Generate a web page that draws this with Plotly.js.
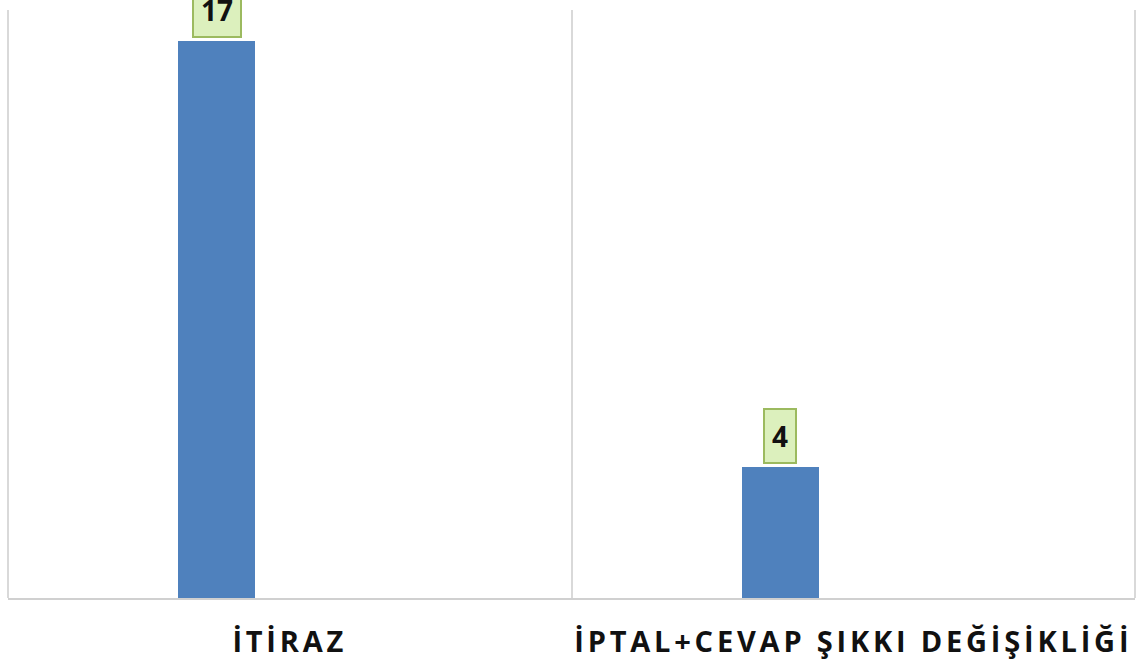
<!DOCTYPE html>
<html>
<head>
<meta charset="utf-8">
<script src="https://cdn.plot.ly/plotly-3.0.1.min.js"></script>
<style>
html,body{margin:0;padding:0;background:#fff;}
#chart{width:1137px;height:664px;}
.xtick text{letter-spacing:3.8px;}
</style>
</head>
<body>
<div id="chart"></div>
<script>
const categories = ["İTİRAZ", "İPTAL+CEVAP ŞIKKI DEĞİŞİKLİĞİ"];
const values = [17, 4];
const valueLabels = ["17", "4"];

const barWidth = 0.137;
const barOffset = -0.198;

const trace = {
  type: "bar",
  x: categories,
  y: values,
  width: categories.map(() => barWidth),
  offset: categories.map(() => barOffset),
  marker: {color: "#4f81bd"},
  hoverinfo: "skip"
};

const annotations = values.map((v, i) => ({
  x: i + barOffset + barWidth / 2,
  y: v,
  xref: "x",
  yref: "y",
  text: "<b>" + valueLabels[i] + "</b>",
  showarrow: false,
  yanchor: "bottom",
  yshift: 3,
  font: {family: "Open Sans, sans-serif", size: 28, color: "#111"},
  bgcolor: "#dcf0bd",
  bordercolor: "#9cba5f",
  borderwidth: 2,
  borderpad: 7
}));

const layout = {
  width: 1137,
  height: 664,
  margin: {l: 8, r: 2, t: 10, b: 66},
  paper_bgcolor: "#ffffff",
  plot_bgcolor: "#ffffff",
  showlegend: false,
  bargap: 0,
  xaxis: {
    type: "category",
    tickson: "boundaries",
    showgrid: true,
    gridcolor: "#d9d9d9",
    gridwidth: 2,
    showline: true,
    linecolor: "#d0d0d0",
    linewidth: 2,
    ticks: "",
    ticklen: 0,
    tickfont: {family: "Open Sans, sans-serif", size: 29, color: "#111", weight: "bold"},
    tickangle: 0,
    ticklabelstandoff: 17,
    range: [-0.5, 1.5],
    fixedrange: true
  },
  yaxis: {
    range: [0, 17.93],
    showgrid: false,
    zeroline: false,
    showticklabels: false,
    showline: false,
    fixedrange: true
  },
  shapes: [
    {type: "line", xref: "paper", yref: "paper", x0: 0, x1: 0, y0: 0, y1: 1, line: {color: "#d9d9d9", width: 2}},
    {type: "line", xref: "paper", yref: "paper", x0: 1, x1: 1, y0: 0, y1: 1, line: {color: "#d9d9d9", width: 2}}
  ],
  annotations: annotations
};

Plotly.newPlot("chart", [trace], layout, {displayModeBar: false, staticPlot: true});
</script>
</body>
</html>
